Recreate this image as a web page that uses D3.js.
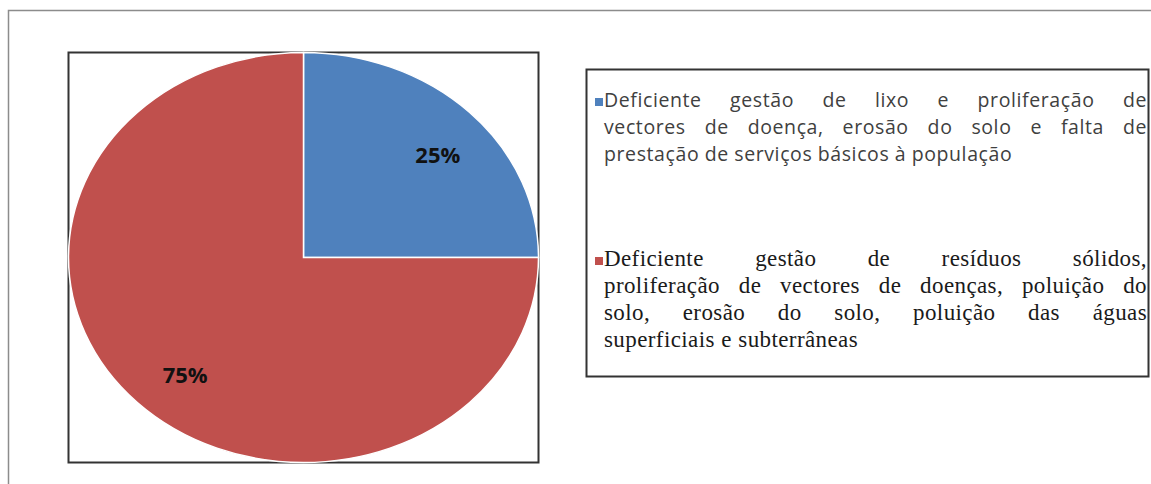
<!DOCTYPE html>
<html>
<head>
<meta charset="utf-8">
<script src="https://cdn.jsdelivr.net/npm/d3@7"></script>
<style>
	body { margin: 0; background: #fff; }
	svg { display: block; }
</style>
</head>
<body>
<svg id="canvas" width="1151" height="484"></svg>
<script>
// chart data
var categories = [
	"Deficiente gestão de lixo e proliferação de vectores de doença, erosão do solo e falta de prestação de serviços básicos à população",
	"Deficiente gestão de resíduos sólidos, proliferação de vectores de doenças, poluição do solo, erosão do solo, poluição das águas superficiais e subterrâneas"
];
var values = [25, 75];
var labels = ["25%", "75%"];
var colors = ["#4f81bd", "#c0504d"];

// legend line breaks as in the source document
var legendLines = [
	["Deficiente gestão de lixo e proliferação de",
	 "vectores de doença, erosão do solo e falta de",
	 "prestação de serviços básicos à população"],
	["Deficiente gestão de resíduos sólidos,",
	 "proliferação de vectores de doenças, poluição do",
	 "solo, erosão do solo, poluição das águas",
	 "superficiais e subterrâneas"]
];

var svg = d3.select("#canvas");

// outer frame (only top/left visible)
svg.append("rect")
	.attr("x", 8.5).attr("y", 10.5)
	.attr("width", 1300).attr("height", 600)
	.attr("fill", "none")
	.attr("stroke", "#8c8c8c")
	.attr("stroke-width", 1.5);

// plot box
var box = {x: 68.5, y: 52.5, w: 470, h: 410};
svg.append("rect")
	.attr("x", box.x).attr("y", box.y)
	.attr("width", box.w).attr("height", box.h)
	.attr("fill", "#fff")
	.attr("stroke", "#333")
	.attr("stroke-width", 2);

var cx = box.x + box.w / 2,
	cy = box.y + box.h / 2,
	rx = box.w / 2,
	ry = box.h / 2;

var pie = d3.pie().sort(null).value(function(d) { return d; });
var arcs = pie(values);
var arc = d3.arc().innerRadius(0).outerRadius(1);
var labelArc = d3.arc().innerRadius(0.76).outerRadius(0.76);

var g = svg.append("g")
	.attr("transform", "translate(" + cx + "," + cy + ") scale(" + rx + "," + ry + ")");

g.selectAll("path")
	.data(arcs)
	.enter().append("path")
	.attr("d", arc)
	.attr("fill", function(d, i) { return colors[i]; })
	.attr("stroke", "#fff")
	.attr("stroke-width", 1.5)
	.attr("vector-effect", "non-scaling-stroke");

svg.selectAll("text.pct")
	.data(arcs)
	.enter().append("text")
	.attr("class", "pct")
	.attr("x", function(d) { return cx + labelArc.centroid(d)[0] * rx + 8; })
	.attr("y", function(d) { return cy + labelArc.centroid(d)[1] * ry + 8; })
	.attr("text-anchor", "middle")
	.attr("dy", "0.35em")
	.attr("font-family", "'Open Sans', sans-serif")
	.attr("font-weight", "bold")
	.attr("font-size", 22)
	.attr("fill", "#111")
	.text(function(d, i) { return labels[i]; });

// legend box
svg.append("rect")
	.attr("x", 586.5).attr("y", 69.5)
	.attr("width", 562).attr("height", 307)
	.attr("fill", "#fff")
	.attr("stroke", "#333")
	.attr("stroke-width", 2);

var legendStyle = [
	{font: "'Open Sans', sans-serif", size: 19.5, ls: 0.6, fill: "#404040", top: 107, step: 27},
	{font: "'Liberation Serif', 'Times New Roman', serif", size: 23, ls: 0.4, fill: "#1a1a1a", top: 266, step: 27}
];
var textLeft = 604, textRight = 1147;

legendLines.forEach(function(lines, k) {
	var st = legendStyle[k];
	svg.append("rect")
		.attr("x", 595).attr("y", st.top - 9)
		.attr("width", 8).attr("height", 8)
		.attr("fill", colors[k]);

	lines.forEach(function(line, li) {
		var y = st.top + li * st.step;
		var words = line.split(" ");
		var grp = svg.append("g");
		var nodes = words.map(function(w) {
			return grp.append("text")
				.attr("y", y)
				.attr("font-family", st.font)
				.attr("font-size", st.size)
				.attr("letter-spacing", st.ls)
				.attr("fill", st.fill)
				.text(w);
		});
		var widths = nodes.map(function(n) { return n.node().getComputedTextLength(); });
		var total = d3.sum(widths);
		var justify = li < lines.length - 1;
		var gap = justify ? (textRight - textLeft - total) / (words.length - 1) : st.size * 0.28;
		var x = textLeft;
		nodes.forEach(function(n, i) {
			n.attr("x", x);
			x += widths[i] + gap;
		});
	});
});
</script>
</body>
</html>
